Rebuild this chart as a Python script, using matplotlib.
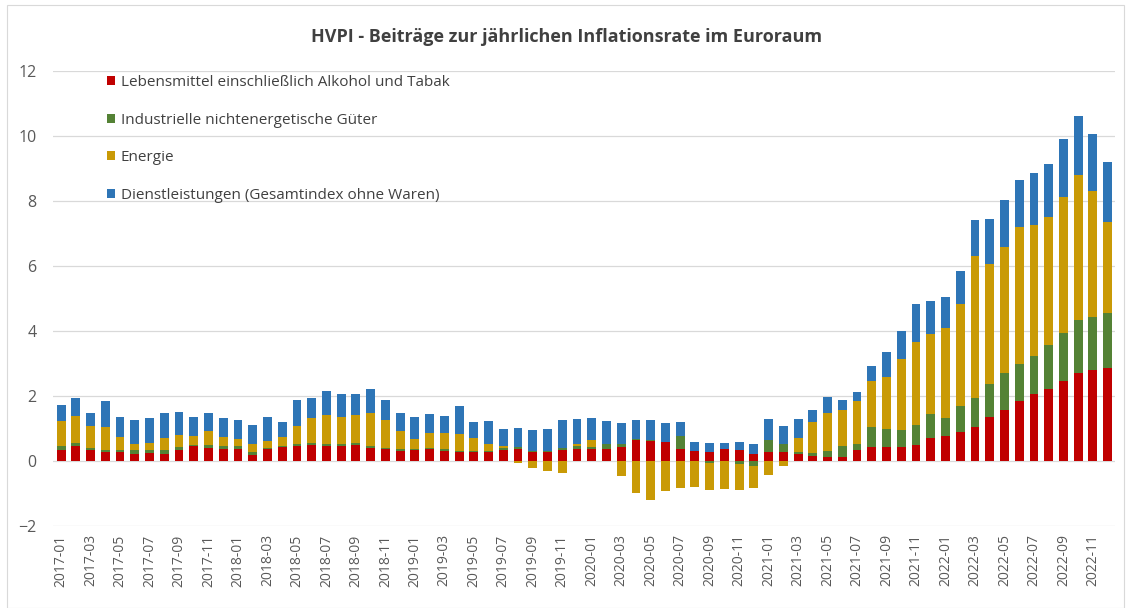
import matplotlib.pyplot as plt
import numpy as np
from matplotlib.patches import Rectangle

plt.rcParams['font.family'] = ['Open Sans', 'DejaVu Sans']

# Monate 2017-01 bis 2022-12
monate = [f"{j}-{m:02d}" for j in range(2017, 2023) for m in range(1, 13)]

# Beiträge in Prozentpunkten
lebensmittel = [0.35, 0.47, 0.35, 0.27, 0.27, 0.22, 0.24, 0.22, 0.35, 0.45, 0.40, 0.37,
                0.37, 0.18, 0.38, 0.43, 0.47, 0.48, 0.47, 0.47, 0.50, 0.40, 0.37, 0.30,
                0.35, 0.38, 0.30, 0.27, 0.27, 0.27, 0.35, 0.38, 0.29, 0.29, 0.35, 0.37,
                0.37, 0.37, 0.43, 0.66, 0.62, 0.57, 0.37, 0.30, 0.29, 0.37, 0.34, 0.21,
                0.27, 0.27, 0.21, 0.14, 0.13, 0.13, 0.34, 0.42, 0.42, 0.42, 0.48, 0.70,
                0.76, 0.89, 1.05, 1.34, 1.56, 1.85, 2.07, 2.23, 2.46, 2.71, 2.81, 2.87]
industrie = [0.10, 0.07, 0.06, 0.06, 0.06, 0.11, 0.09, 0.11, 0.08, 0.03, 0.08, 0.08,
             0.08, 0.10, 0.02, 0.02, 0.04, 0.07, 0.06, 0.06, 0.05, 0.05, 0.04, 0.07,
             0.03, 0.03, 0.06, 0.05, 0.05, 0.05, 0.06, 0.05, 0.03, 0.03, 0.05, 0.08,
             0.06, 0.14, 0.10, 0.02, 0.03, 0.02, 0.40, 0.02, -0.05, 0.01, -0.10, -0.16,
             0.38, 0.26, 0.08, 0.10, 0.18, 0.33, 0.17, 0.63, 0.56, 0.52, 0.63, 0.75,
             0.55, 0.79, 0.89, 1.02, 1.15, 1.14, 1.15, 1.35, 1.48, 1.64, 1.63, 1.69]
energie = [0.77, 0.84, 0.67, 0.71, 0.42, 0.20, 0.22, 0.38, 0.38, 0.29, 0.45, 0.30,
           0.23, 0.23, 0.22, 0.30, 0.57, 0.77, 0.88, 0.82, 0.86, 1.03, 0.86, 0.54,
           0.30, 0.44, 0.51, 0.51, 0.39, 0.21, 0.04, -0.06, -0.20, -0.31, -0.36, 0.06,
           0.23, 0.00, -0.45, -0.98, -1.21, -0.92, -0.82, -0.80, -0.84, -0.86, -0.79, -0.66,
           -0.42, -0.16, 0.42, 0.95, 1.17, 1.11, 1.33, 1.42, 1.62, 2.20, 2.54, 2.46,
           2.79, 3.14, 4.37, 3.69, 3.87, 4.21, 4.04, 3.94, 4.18, 4.46, 3.86, 2.79]
dienste = [0.50, 0.55, 0.40, 0.82, 0.60, 0.73, 0.76, 0.77, 0.71, 0.58, 0.55, 0.56,
           0.58, 0.60, 0.73, 0.44, 0.81, 0.61, 0.73, 0.70, 0.64, 0.75, 0.61, 0.56,
           0.67, 0.59, 0.51, 0.85, 0.48, 0.70, 0.55, 0.60, 0.64, 0.68, 0.85, 0.77,
           0.66, 0.71, 0.63, 0.59, 0.60, 0.57, 0.42, 0.28, 0.27, 0.16, 0.26, 0.32,
           0.64, 0.54, 0.58, 0.38, 0.49, 0.31, 0.29, 0.44, 0.74, 0.86, 1.17, 1.00,
           0.95, 1.03, 1.12, 1.41, 1.46, 1.44, 1.61, 1.63, 1.80, 1.82, 1.75, 1.84]

reihen = [
    ('Lebensmittel einschließlich Alkohol und Tabak', lebensmittel, '#C00000'),
    ('Industrielle nichtenergetische Güter', industrie, '#548235'),
    ('Energie', energie, '#C99A06'),
    ('Dienstleistungen (Gesamtindex ohne Waren)', dienste, '#2E75B6'),
]

fig = plt.figure(figsize=(11.31, 6.08), dpi=100)
ax = fig.add_axes([53 / 1131, 1 - 526 / 608, (1115 - 53) / 1131, (526 - 71) / 608])

x = np.arange(len(monate))
pos = np.zeros(len(monate))
neg = np.zeros(len(monate))
for name, werte, farbe in reihen:
    w = np.array(werte)
    unten = np.where(w >= 0, pos, neg)
    ax.bar(x, w, bottom=unten, width=0.6, color=farbe, label=name, zorder=3)
    pos = np.where(w >= 0, pos + w, pos)
    neg = np.where(w < 0, neg + w, neg)

ax.set_xlim(-0.55, 71.5)
ax.set_ylim(-2, 12)
ax.set_yticks(range(-2, 13, 2))
ax.set_xticks(x[::2])
ax.set_xticklabels(monate[::2], rotation=90, fontsize=10, color='#595959')
ax.tick_params(axis='y', labelsize=11.5, colors='#595959', length=0, pad=12)
ax.tick_params(axis='x', length=0, pad=6)
ax.grid(axis='y', color='#D9D9D9', linewidth=0.9, zorder=0)
for s in ax.spines.values():
    s.set_visible(False)

leg = ax.legend(loc='upper left', bbox_to_anchor=(0.045, 1.004), frameon=False,
                fontsize=11, handlelength=0.55, handleheight=0.55, handletextpad=0.35,
                labelspacing=1.47, borderaxespad=0)
for t in leg.get_texts():
    t.set_color('#404040')

fig.text(0.501, 1 - 37 / 608, 'HVPI - Beiträge zur jährlichen Inflationsrate im Euroraum',
         ha='center', va='center', fontsize=13, fontweight='bold', color='#404040')

fig.patches.append(Rectangle((7 / 1131, 0), 1 - 14 / 1131, 1 - 5 / 608,
                             transform=fig.transFigure, fill=False,
                             edgecolor='#D9D9D9', linewidth=0.8))

fig.savefig('out.png', dpi=100)
